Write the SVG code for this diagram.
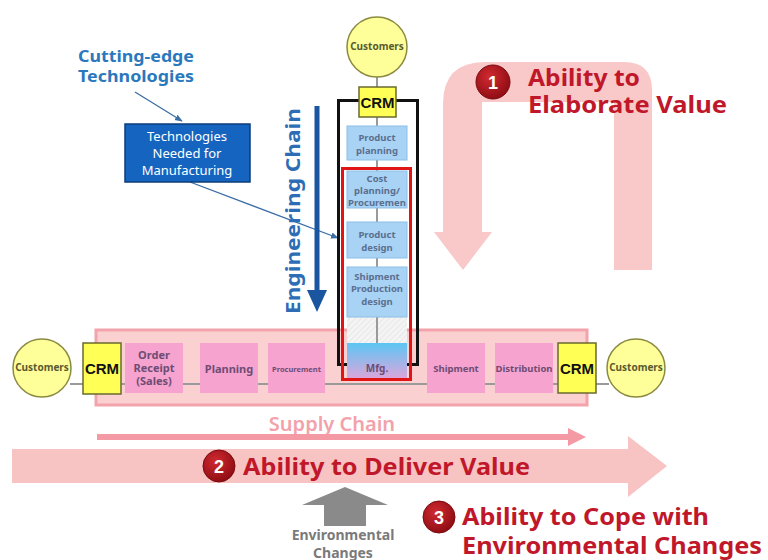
<svg xmlns="http://www.w3.org/2000/svg" width="768" height="560" viewBox="0 0 768 560">
  <style>
    .lbl { font-family: "Noto Sans", "Liberation Sans", sans-serif; }
    .cust { fill: #ffff99; stroke: #8a8a40; stroke-width: 1.5; }
    .cust-t { font-family: "Noto Sans", "Liberation Sans", sans-serif; font-size: 10px; font-weight: bold; fill: #5a5a30; text-anchor: middle; }
    .crm { fill: #ffff55; stroke: #6a6a30; stroke-width: 1.5; }
    .crm-t { font-family: "Liberation Sans", sans-serif; font-size: 15px; font-weight: bold; fill: #111; text-anchor: middle; }
    .eng { fill: #a9d3f5; stroke: #8dbde6; stroke-width: 1; }
    .eng-t { font-family: "Noto Sans", "Liberation Sans", sans-serif; font-size: 9.5px; font-weight: bold; fill: #5b6f8f; text-anchor: middle; }
    .sup { fill: #f6a3cf; }
    .sup-t { font-family: "Noto Sans", "Liberation Sans", sans-serif; font-weight: bold; fill: #6e4c74; text-anchor: middle; }
    .red-t { font-family: "Noto Sans", "Liberation Sans", sans-serif; font-weight: bold; fill: #c0182a; font-size: 24px; }
    .badge { fill: url(#badgeGrad); stroke: #7a0a0e; stroke-width: 1; }
    .badge-t { font-family: "Liberation Sans", sans-serif; font-weight: bold; fill: #fff; font-size: 18px; text-anchor: middle; }
    .conn { stroke: #9a9a9a; stroke-width: 2; fill: none; }
  </style>
  <defs>
    <radialGradient id="badgeGrad" cx="0.4" cy="0.35" r="0.7">
      <stop offset="0" stop-color="#d02a30"/>
      <stop offset="1" stop-color="#8c0b12"/>
    </radialGradient>
    <linearGradient id="mfgGrad" x1="0" y1="0" x2="0" y2="1">
      <stop offset="0" stop-color="#5cc6f4"/>
      <stop offset="1" stop-color="#d9a6dc"/>
    </linearGradient>
    <pattern id="hatch" width="4" height="4" patternUnits="userSpaceOnUse" patternTransform="rotate(45)">
      <rect width="4" height="4" fill="#f4f4f4"/>
      <line x1="0" y1="0" x2="0" y2="4" stroke="#dcdcdc" stroke-width="1"/>
    </pattern>
    <marker id="tipBlue" viewBox="0 0 10 10" refX="9" refY="5" markerWidth="6" markerHeight="6" orient="auto">
      <path d="M0,1 L10,5 L0,9 Z" fill="#3a6ea5"/>
    </marker>
  </defs>

  <rect width="768" height="560" fill="#ffffff"/>

  <!-- 1: inverted-U arrow (Ability to Elaborate Value) -->
  <g id="arrow-elaborate">
    <path d="M443,232 L443,104 Q443,62 485,62 L624,62 Q652,62 652,90 L652,270 L614,270 L614,102 L482,102 L482,232 L492,232 L463,270 L434,232 Z" fill="#f9c9c9"/>
    <circle class="badge" cx="493" cy="82" r="17"/>
    <text class="badge-t" x="493" y="89">1</text>
    <text class="red-t" x="528" y="86" textLength="112" lengthAdjust="spacingAndGlyphs">Ability to</text>
    <text class="red-t" x="528" y="113" textLength="199" lengthAdjust="spacingAndGlyphs">Elaborate Value</text>
  </g>

  <!-- 2: wide arrow (Ability to Deliver Value) -->
  <g id="arrow-deliver">
    <path d="M12,449 L628,449 L628,436 L667,466 L628,497 L628,483 L12,483 Z" fill="#f8c3c3"/>
    <circle class="badge" cx="219" cy="466" r="16"/>
    <text class="badge-t" x="219" y="473">2</text>
    <text class="red-t" x="243" y="475" textLength="287" lengthAdjust="spacingAndGlyphs">Ability to Deliver Value</text>
  </g>

  <!-- 3: environmental changes -->
  <g id="env-changes">
    <path d="M345,487 L388,505 L366,505 L366,526 L324,526 L324,505 L302,505 Z" fill="#8a8a8a"/>
    <text class="lbl" x="343" y="540" font-size="14" font-weight="bold" fill="#7a7a7a" text-anchor="middle">Environmental</text>
    <text class="lbl" x="343" y="558" font-size="14" font-weight="bold" fill="#7a7a7a" text-anchor="middle">Changes</text>
    <circle class="badge" cx="439" cy="517" r="16"/>
    <text class="badge-t" x="439" y="524">3</text>
    <text class="red-t" x="462" y="525" textLength="247" lengthAdjust="spacingAndGlyphs">Ability to Cope with</text>
    <text class="red-t" x="462" y="554" textLength="300" lengthAdjust="spacingAndGlyphs">Environmental Changes</text>
  </g>

  <!-- Supply chain band -->
  <g id="supply-band">
    <rect x="96" y="330" width="491" height="75" fill="#fbd0d0" stroke="#f3a3ab" stroke-width="3"/>
  </g>

  <!-- Supply chain label and arrow -->
  <g id="supply-chain-label">
    <text class="lbl" x="332" y="431" font-size="20" font-weight="600" fill="#f2a2aa" text-anchor="middle">Supply Chain</text>
    <path d="M97,434 L568,434 L568,428 L586,437 L568,446 L568,440 L97,440 Z" fill="#f39aa4"/>
  </g>

  <!-- Connectors -->
  <g id="connectors">
    <line class="conn" x1="70" y1="384" x2="609" y2="384"/>
    <line class="conn" x1="377" y1="76" x2="377" y2="345"/>
    <line x1="135" y1="92" x2="182" y2="121" stroke="#3a6ea5" stroke-width="1.3" marker-end="url(#tipBlue)"/>
    <line x1="190" y1="182" x2="338" y2="238" stroke="#3a6ea5" stroke-width="1.3" marker-end="url(#tipBlue)"/>
  </g>

  <!-- Engineering chain arrow and label -->
  <g id="engineering-chain">
    <line x1="317" y1="106" x2="317" y2="292" stroke="#1a56a0" stroke-width="5"/>
    <path d="M307,290 L327,290 L317,312 Z" fill="#1a56a0"/>
    <text class="lbl" transform="translate(300,211) rotate(-90)" font-size="20" font-weight="bold" fill="#2d6db5" text-anchor="middle" textLength="206" lengthAdjust="spacingAndGlyphs">Engineering Chain</text>
  </g>

  <!-- Cutting-edge technologies -->
  <g id="cutting-edge">
    <text class="lbl" x="78" y="62" font-size="16" font-weight="bold" fill="#2a78bd" textLength="116" lengthAdjust="spacingAndGlyphs">Cutting-edge</text>
    <text class="lbl" x="78" y="82" font-size="16" font-weight="bold" fill="#2a78bd" textLength="116" lengthAdjust="spacingAndGlyphs">Technologies</text>
  </g>

  <g id="tech-needed">
    <rect x="125" y="124" width="125" height="58" fill="#1565c0" stroke="#0d3d7a" stroke-width="1.5"/>
    <text class="lbl" x="187" y="141" font-size="13" fill="#ffffff" text-anchor="middle">Technologies</text>
    <text class="lbl" x="187" y="158" font-size="13" fill="#ffffff" text-anchor="middle">Needed for</text>
    <text class="lbl" x="187" y="175" font-size="13" fill="#ffffff" text-anchor="middle">Manufacturing</text>
  </g>

  <!-- Engineering column -->
  <g id="eng-frame">
    <rect x="338.5" y="100.5" width="79" height="264" fill="none" stroke="#111" stroke-width="3"/>
  </g>

  <g id="hatch-gap">
    <rect x="347" y="317" width="60" height="26" fill="url(#hatch)"/>
    <line class="conn" x1="377" y1="317" x2="377" y2="343"/>
  </g>

  <g id="product-planning">
    <rect class="eng" x="347" y="126" width="60" height="34"/>
    <text class="eng-t" x="377" y="141">Product</text>
    <text class="eng-t" x="377" y="154">planning</text>
  </g>

  <g id="cost-planning">
    <rect class="eng" x="347" y="171" width="60" height="37"/>
    <text class="eng-t" x="377" y="182" font-size="9">Cost</text>
    <text class="eng-t" x="377" y="194" font-size="9">planning/</text>
    <text class="eng-t" x="377" y="206" font-size="9">Procuremen</text>
  </g>

  <g id="product-design">
    <rect class="eng" x="347" y="222" width="60" height="36"/>
    <text class="eng-t" x="377" y="238">Product</text>
    <text class="eng-t" x="377" y="251">design</text>
  </g>

  <g id="shipment-production-design">
    <rect class="eng" x="347" y="267" width="60" height="50"/>
    <text class="eng-t" x="377" y="280">Shipment</text>
    <text class="eng-t" x="377" y="292">Production</text>
    <text class="eng-t" x="377" y="305">design</text>
  </g>

  <g id="mfg">
    <rect x="347" y="343" width="60" height="35" fill="url(#mfgGrad)"/>
    <text class="sup-t" x="377" y="372" font-size="10">Mfg.</text>
  </g>

  <g id="mfg-scope">
    <rect x="342.5" y="168.5" width="68" height="211" fill="none" stroke="#e01616" stroke-width="3"/>
  </g>

  <g id="crm-top">
    <rect class="crm" x="359" y="87" width="37" height="30"/>
    <text class="crm-t" x="377.5" y="108">CRM</text>
  </g>

  <g id="customers-top">
    <circle class="cust" cx="377" cy="47" r="30"/>
    <text class="cust-t" x="377" y="50">Customers</text>
  </g>

  <!-- Supply chain steps -->
  <g id="customers-left">
    <circle class="cust" cx="42" cy="368" r="29"/>
    <text class="cust-t" x="42" y="371">Customers</text>
  </g>

  <g id="crm-left">
    <rect class="crm" x="83" y="343" width="38" height="51"/>
    <text class="crm-t" x="102" y="374">CRM</text>
  </g>

  <g id="order-receipt">
    <rect class="sup" x="125" y="343" width="58" height="50"/>
    <text class="sup-t" x="154" y="359" font-size="11">Order</text>
    <text class="sup-t" x="154" y="372" font-size="11">Receipt</text>
    <text class="sup-t" x="154" y="385" font-size="11">(Sales)</text>
  </g>

  <g id="planning">
    <rect class="sup" x="200" y="343" width="58" height="50"/>
    <text class="sup-t" x="229" y="373" font-size="11">Planning</text>
  </g>

  <g id="procurement">
    <rect class="sup" x="268" y="343" width="57" height="50"/>
    <text class="sup-t" x="296.5" y="372" font-size="7.5">Procurement</text>
  </g>

  <g id="shipment">
    <rect class="sup" x="427" y="343" width="58" height="50"/>
    <text class="sup-t" x="456" y="372" font-size="9.5">Shipment</text>
  </g>

  <g id="distribution">
    <rect class="sup" x="495" y="343" width="58" height="50"/>
    <text class="sup-t" x="524" y="372" font-size="9.5">Distribution</text>
  </g>

  <g id="crm-right">
    <rect class="crm" x="558" y="343" width="38" height="50"/>
    <text class="crm-t" x="577" y="374">CRM</text>
  </g>

  <g id="customers-right">
    <circle class="cust" cx="636" cy="368" r="29"/>
    <text class="cust-t" x="636" y="371">Customers</text>
  </g>
</svg>
